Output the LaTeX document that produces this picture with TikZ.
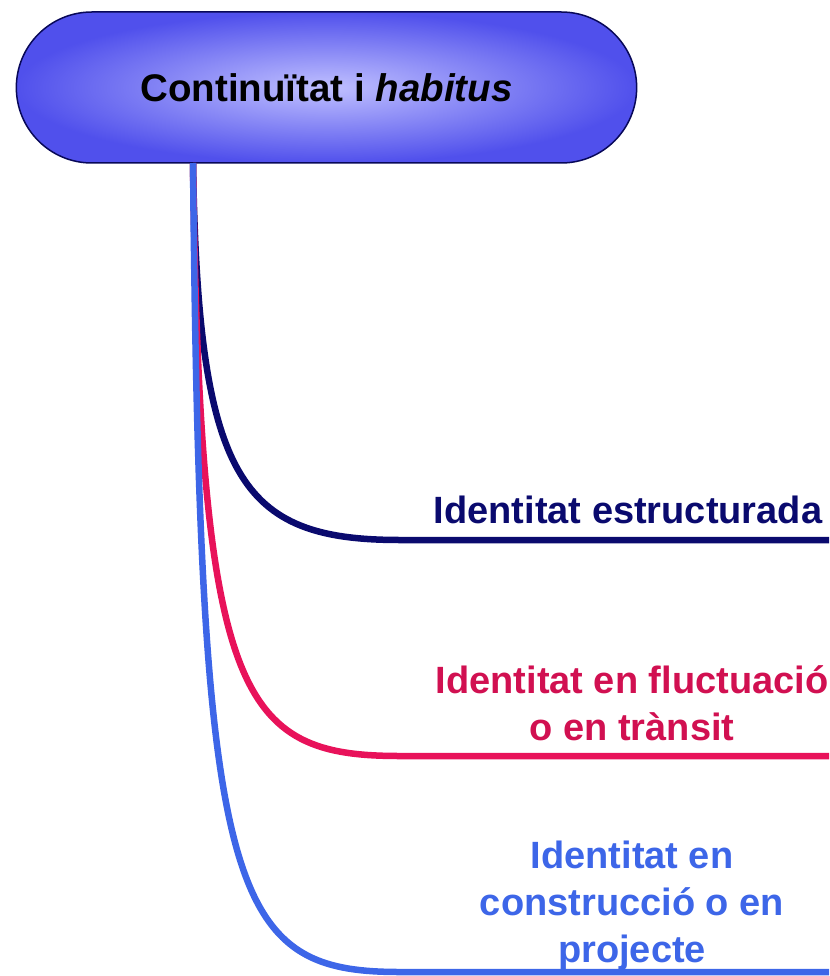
\documentclass[tikz,border=0pt]{standalone}
\usepackage{fontspec}
\setmainfont{Liberation Sans}
\usetikzlibrary{shapes.misc}
\definecolor{navyline}{HTML}{0A0A6E}
\definecolor{pinkline}{HTML}{E8125A}
\definecolor{blueline}{HTML}{3D66E8}
\definecolor{boxfill}{HTML}{5050EC}
\definecolor{boxlight}{HTML}{C0C0FF}
\tikzset{
  branch/.style={line width=6.5pt},
  label/.style={font=\bfseries\fontsize{38}{47}\selectfont, align=center, inner sep=0pt, anchor=north}
}
\begin{document}
\begin{tikzpicture}[x=1pt, y=-1pt]
    \useasboundingbox (0,0) rectangle (829,976);
    \clip (0,0) rectangle (829,976);

    \node[rounded rectangle, draw=navyline!80!black, line width=1.5pt, inner color=boxlight, outer color=boxfill,
          minimum width=627pt, minimum height=151pt, font=\bfseries\fontsize{38.5}{44}\selectfont] (top) at (326.5,87.5) {Continuïtat i \textit{habitus}};

    \coordinate (root) at (193,163);
    \coordinate (e1) at (829,540);
    \coordinate (e2) at (829,756);
    \coordinate (e3) at (829,972);

    \draw[branch, navyline] (root) .. controls (198,480) and (240,540) .. (400,540) -- (e1);
    \draw[branch, pinkline] (root) .. controls (200,700) and (240,756) .. (400,756) -- (e2);
    \draw[branch, blueline] (root) .. controls (200,900) and (230,972) .. (400,972) -- (e3);

    \node[label, text=navyline] (n1) at (628,496) {Identitat estructurada};
    \node[label, text=pinkline!90!black] (n2) at (632,665) {Identitat en fluctuació\\o en trànsit};
    \node[label, text=blueline] (n3) at (632,841) {Identitat en\\construcció o en\\projecte};
\end{tikzpicture}
\end{document}
